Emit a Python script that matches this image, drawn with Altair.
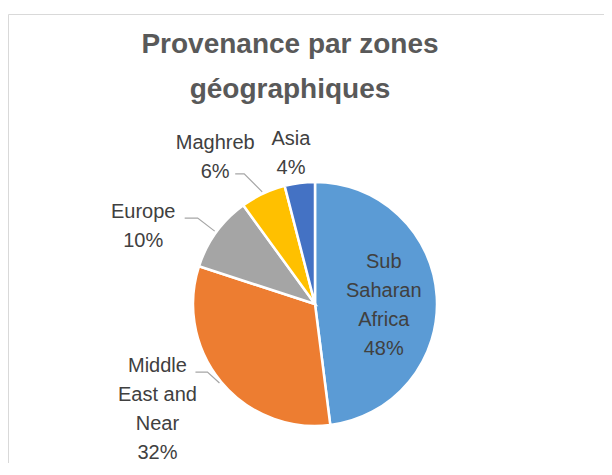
import math
import altair as alt
import pandas as pd

# ---- data -------------------------------------------------------------
categories = ["Sub Saharan Africa", "Middle East and Near", "Europe", "Maghreb", "Asia"]
label_text = ["Sub\nSaharan\nAfrica", "Middle\nEast and\nNear", "Europe", "Maghreb", "Asia"]
shares = [48, 32, 10, 6, 4]
title_lines = ["Provenance par zones", "géographiques"]

# ---- style / layout ---------------------------------------------------
colors = ["#5B9BD5", "#ED7D31", "#A5A5A5", "#FFC000", "#4472C4"]
FONT = "Liberation Sans"
CX, CY, R = 307, 296, 122      # pie centre and radius (px)
EDGE = 124                     # radius where leader lines touch the pie
# label first-baseline offset from the slice's mid-angle edge point
label_offset = {
    "Sub Saharan Africa": (-55, -28),
    "Middle East and Near": (-62, -11),
    "Europe": (-71.5, -13),
    "Maghreb": (-47, -43),
    "Asia": (-8.5, -36),
}
# leader line: (start near text, elbow) offsets from edge point
leader_offset = {
    "Middle East and Near": [(-24, -11), (-12, -11)],
    "Europe": [(-30, -13), (-17, -13)],
    "Maghreb": [(-27, -18), (-18, -18)],
}

# ---- derived tables ---------------------------------------------------
total = sum(shares)
rows, line_rows = [], []
cum = 0
for i, (cat, lab, s) in enumerate(zip(categories, label_text, shares)):
    mid = (cum + s / 2) / total * 2 * math.pi
    cum += s
    ex = CX + EDGE * math.sin(mid)
    ey = CY - EDGE * math.cos(mid)
    dx, dy = label_offset[cat]
    rows.append({"idx": i, "category": cat, "share": s,
                 "text": f"{lab}\n{s}%", "lx": ex + dx, "ly": ey + dy})
    if cat in leader_offset:
        pts = leader_offset[cat] + [(0, 0)]
        for k, (ox, oy) in enumerate(pts):
            line_rows.append({"category": cat, "step": k, "x": ex + ox, "y": ey + oy})

df = pd.DataFrame(rows)
df_lines = pd.DataFrame(line_rows)

# ---- marks ------------------------------------------------------------
frame = alt.Chart(pd.DataFrame({"a": [0]})).mark_rect(
    fillOpacity=0, stroke="#D9D9D9", strokeWidth=1
).encode(x=alt.value(0.5), y=alt.value(6.5), x2=alt.value(900), y2=alt.value(900))

pie = alt.Chart(df).mark_arc(outerRadius=R, stroke="white", strokeWidth=2.5).encode(
    theta=alt.Theta("share:Q", stack=True),
    order=alt.Order("idx:Q"),
    color=alt.Color("category:N", scale=alt.Scale(domain=categories, range=colors), legend=None),
    x=alt.value(CX),
    y=alt.value(CY),
)

leaders = alt.Chart(df_lines).mark_line(color="#A6A6A6", strokeWidth=1.2).encode(
    x=alt.X("x:Q", scale=None),
    y=alt.Y("y:Q", scale=None),
    detail="category:N",
    order="step:Q",
)

labels = alt.Chart(df).mark_text(
    align="center", baseline="alphabetic", font=FONT, fontSize=20,
    color="#404040", lineBreak="\n", lineHeight=29
).encode(
    x=alt.X("lx:Q", scale=None),
    y=alt.Y("ly:Q", scale=None),
    text="text:N",
)

title = alt.Chart(pd.DataFrame({"t": ["\n".join(title_lines)]})).mark_text(
    align="center", baseline="alphabetic", font=FONT, fontSize=28, fontWeight="bold",
    color="#595959", lineBreak="\n", lineHeight=45
).encode(x=alt.value(282), y=alt.value(45), text="t:N")

chart = alt.layer(frame, pie, leaders, labels, title).properties(
    width=596, height=455, autosize="none", padding=0
).configure_view(strokeWidth=0)

chart.save("out.html", embed_options={"renderer": "svg", "actions": False})
